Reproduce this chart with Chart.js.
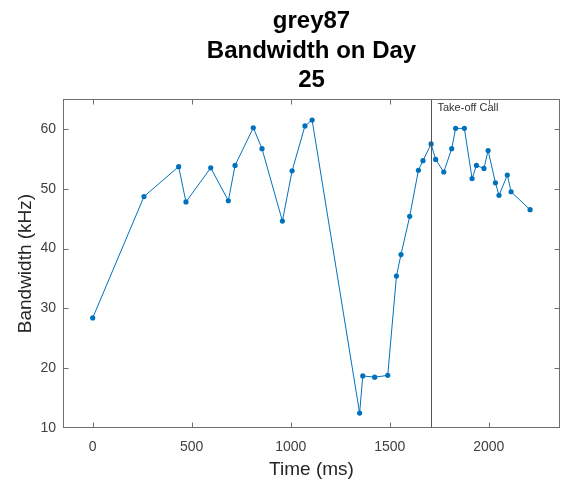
<!DOCTYPE html>
<html>
<head>
<meta charset="utf-8">
<script src="https://cdn.jsdelivr.net/npm/chart.js@4/dist/chart.umd.min.js"></script>
<style>
  html, body { margin: 0; padding: 0; background: #fff; }
  #wrap { width: 576px; height: 485px; }
</style>
</head>
<body>
<div id="wrap"><canvas id="bwChart" width="576" height="485"></canvas></div>
<script>
// call times (ms) and bandwidth (kHz)
const times = [0, 259, 434, 471, 596, 685, 719, 811, 855, 958, 1007, 1072, 1108,
    1348, 1364, 1424, 1490, 1534, 1557, 1601, 1645, 1668, 1709, 1732, 1773, 1813,
    1833, 1877, 1916, 1938, 1976, 1997, 2034, 2052, 2094, 2113, 2209];
const bandwidth = [28.4, 48.7, 53.7, 47.8, 53.5, 48.0, 53.9, 60.2, 56.7, 44.6, 53.0, 60.5, 61.5,
    12.5, 18.7, 18.5, 18.8, 35.4, 39.0, 45.4, 53.1, 54.7, 57.5, 54.9, 52.8, 56.7,
    60.1, 60.1, 51.7, 53.9, 53.4, 56.4, 51.0, 48.9, 52.3, 49.5, 46.5];
const xTicks = [0, 500, 1000, 1500, 2000];
const yTicks = [10, 20, 30, 40, 50, 60];
const takeoffTime = 1709;
const takeoffLabel = 'Take-off Call';
const titleLines = ['grey87', 'Bandwidth on Day', '25'];

const FONT = '"Liberation Sans", Arial, Helvetica, sans-serif';
const axisGrey = '#6f6f6f';

// box around the axes, inward ticks on all four sides, take-off marker
const matlabAxes = {
    id: 'matlabAxes',
    afterDatasetsDraw(chart) {
        const { ctx, chartArea: a, scales: { x, y } } = chart;
        ctx.save();
        // take-off line and label
        const tx = Math.round(x.getPixelForValue(takeoffTime)) + 0.5;
        ctx.strokeStyle = '#555';
        ctx.lineWidth = 1;
        ctx.beginPath();
        ctx.moveTo(tx, a.top);
        ctx.lineTo(tx, a.bottom);
        ctx.stroke();
        ctx.fillStyle = '#333';
        ctx.font = '11px ' + FONT;
        ctx.textBaseline = 'middle';
        ctx.textAlign = 'left';
        ctx.fillText(takeoffLabel, tx + 6, a.top + 9);

        ctx.strokeStyle = axisGrey;
        ctx.lineWidth = 1;
        const L = Math.round(a.left) + 0.5, R = Math.round(a.right) - 0.5;
        const T = Math.round(a.top) + 0.5, B = Math.round(a.bottom) - 0.5;
        ctx.strokeRect(L, T, R - L, B - T);
        const len = 5;
        ctx.beginPath();
        xTicks.forEach(v => {
            const px = Math.min(R, Math.max(L, Math.round(x.getPixelForValue(v)) + 0.5));
            ctx.moveTo(px, B); ctx.lineTo(px, B - len);
            ctx.moveTo(px, T); ctx.lineTo(px, T + len);
        });
        yTicks.forEach(v => {
            const py = Math.min(B, Math.max(T, Math.round(y.getPixelForValue(v)) + 0.5));
            ctx.moveTo(L, py); ctx.lineTo(L + len, py);
            ctx.moveTo(R, py); ctx.lineTo(R - len, py);
        });
        ctx.stroke();
        ctx.restore();
    }
};

const ctx = document.getElementById('bwChart').getContext('2d');
const bwChart = new Chart(ctx, {
    type: 'line',
    data: {
        datasets: [{
            label: 'Bandwidth',
            data: times.map((t, i) => ({ x: t, y: bandwidth[i] })),
            borderColor: '#0072BD',
            backgroundColor: '#0072BD',
            borderWidth: 1,
            pointRadius: 2.6,
            pointBorderWidth: 0,
            tension: 0,
            fill: false
        }]
    },
    options: {
        responsive: false,
        animation: false,
        layout: { padding: { left: 0, right: 16, top: 0, bottom: 0 } },
        scales: {
            x: {
                type: 'linear',
                min: -150,
                max: 2360,
                grid: { display: false, drawTicks: false },
                border: { display: false },
                afterBuildTicks(scale) { scale.ticks = xTicks.map(v => ({ value: v })); },
                ticks: {
                    padding: 11,
                    color: '#404040',
                    font: { family: FONT, size: 14 },
                    maxRotation: 0,
                    autoSkip: false,
                    callback: v => String(v)
                },
                title: {
                    display: true,
                    text: 'Time (ms)',
                    color: '#262626',
                    font: { family: FONT, size: 19 },
                    padding: { top: 0, bottom: 4 }
                },
                afterFit(scale) { scale.height = 57; }
            },
            y: {
                min: 10,
                max: 65,
                grid: { display: false, drawTicks: false },
                border: { display: false },
                afterBuildTicks(scale) { scale.ticks = yTicks.map(v => ({ value: v })); },
                ticks: {
                    padding: 7,
                    color: '#404040',
                    font: { family: FONT, size: 14 },
                    autoSkip: false,
                    callback: v => String(v)
                },
                title: {
                    display: true,
                    text: 'Bandwidth (kHz)',
                    color: '#262626',
                    font: { family: FONT, size: 19 },
                    padding: { top: 14, bottom: 0 }
                },
                afterFit(scale) { scale.width = 63; }
            }
        },
        plugins: {
            legend: { display: false },
            tooltip: { enabled: false },
            title: {
                display: true,
                fullSize: false,
                text: titleLines,
                color: '#000',
                font: { family: FONT, size: 24, weight: 'bold', lineHeight: 1.23 },
                padding: { top: 7, bottom: 3.5 }
            }
        }
    },
    plugins: [matlabAxes]
});
</script>
</body>
</html>
